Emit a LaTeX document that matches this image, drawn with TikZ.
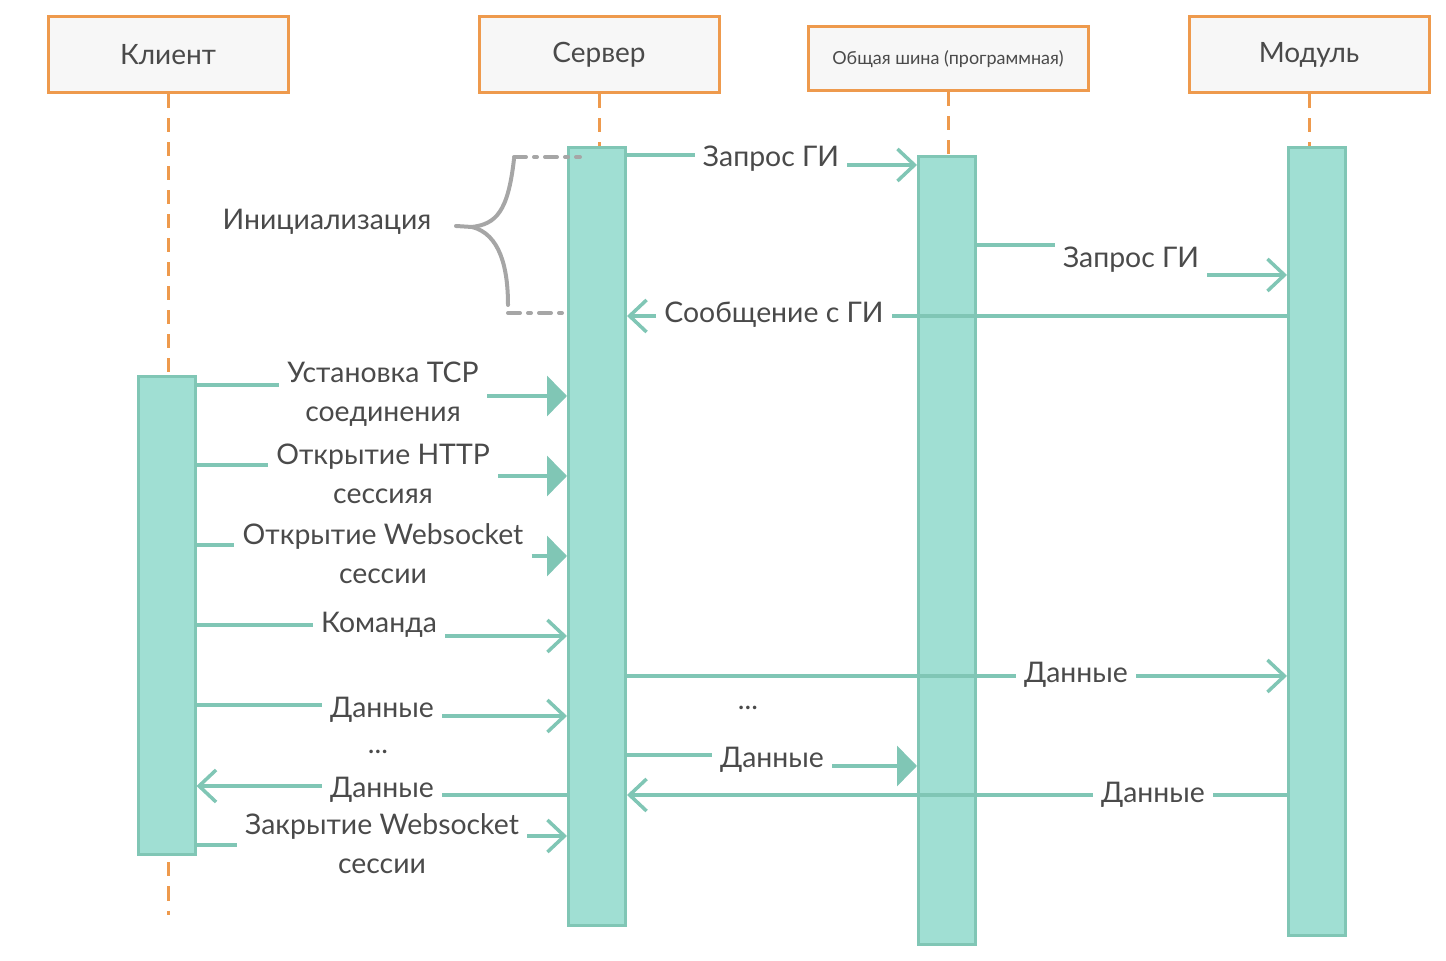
\documentclass[tikz,border=0pt]{standalone}
\usepackage{fontspec}
\setmainfont{Lato}
\usetikzlibrary{arrows.meta}

\definecolor{hdorange}{HTML}{EE9A4D}
\definecolor{barfill}{HTML}{A0DFD3}
\definecolor{barline}{HTML}{80C6B5}
\definecolor{txtgray}{HTML}{4A4A4A}
\definecolor{bracegray}{HTML}{A6A6A6}

\tikzset{
  header/.style={draw=hdorange, line width=1.5pt, fill=black!3, text=txtgray,
    minimum width=120pt, minimum height=38pt, font=\fontsize{14}{17}\selectfont},
  lifeline/.style={draw=hdorange, line width=1.5pt, dash pattern=on 7pt off 5pt},
  actbar/.style={draw=barline, fill=barfill, line width=1.5pt, minimum width=28.5pt, inner sep=0pt},
  msg/.style={draw=barline, line width=1.75pt},
  lbl/.style={text=txtgray, font=\fontsize{14.2}{19.5}\selectfont, align=center, inner xsep=4pt, inner ysep=0pt, yshift=-1pt},
  opentip/.style={-{Straight Barb[length=8.5pt,width=16pt]}},
  filledtip/.style={-{Triangle[length=10pt,width=20pt]}},
  bracepen/.style={draw=bracegray, line width=2pt, line cap=round}
}

\begin{document}
\begin{tikzpicture}[x=0.5pt, y=-0.5pt]
  \useasboundingbox (0,0) rectangle (1446,961);
  % participants
  \node[header] (hdC) at (168,55) {Клиент};
  \node[header] (hdS) at (599,55) {Сервер};
  \node[header, minimum width=140pt, minimum height=32pt, font=\fontsize{9}{11}\selectfont] (hdB) at (948,59) {Общая шина (программная)};
  \node[header] (hdM) at (1309,55) {Модуль};
  % lifelines
  \draw[lifeline] (hdC.south) -- (hdC.south |- 0,915);
  \draw[lifeline] (hdS.south) -- (hdS.south |- 0,150);
  \draw[lifeline] (hdB.south) -- (hdB.south |- 0,159);
  \draw[lifeline] (hdM.south) -- (hdM.south |- 0,150);
  % activation bars
  \foreach \n/\x/\y/\h in {barC/166.5/616/239, barS/597/536.5/388.5, barB/947/550.5/393.5, barM/1317/541.5/393.5}
    {\node[actbar, minimum height=\h pt] (\n) at (\x,\y) {};}

  % initialisation
  \node[lbl] (mReq1) at (771,157) {Запрос ГИ};
  \draw[msg] (barS.east |- 0,155) -- (mReq1.west |- 0,155);
  \draw[msg, opentip] (mReq1.east |- 0,165) -- (barB.west |- 0,165);
  \node[lbl] (mReq2) at (1131,258) {Запрос ГИ};
  \draw[msg] (barB.east |- 0,245) -- (mReq2.west |- 0,245);
  \draw[msg, opentip] (mReq2.east |- 0,275) -- (barM.west |- 0,275);
  \node[lbl] (mMsg) at (774,313) {Сообщение с ГИ};
  \draw[msg] (barM.west |- 0,316) -- (mMsg.east |- 0,316);
  \draw[msg, opentip] (mMsg.west |- 0,316) -- (barS.east |- 0,316);

  % client session
  \node[lbl] (mTcp) at (383,392) {Установка TCP\\соединения};
  \draw[msg] (barC.east |- 0,385) -- (mTcp.west |- 0,385);
  \draw[msg, filledtip] (mTcp.east |- 0,396) -- (barS.west |- 0,396);
  \node[lbl] (mHttp) at (383,472) {Открытие HTTP\\сессияя};
  \draw[msg] (barC.east |- 0,465) -- (mHttp.west |- 0,465);
  \draw[msg, filledtip] (mHttp.east |- 0,476) -- (barS.west |- 0,476);
  \node[lbl] (mWs) at (383,552) {Открытие Websocket\\сессии};
  \draw[msg] (barC.east |- 0,545) -- (mWs.west |- 0,545);
  \draw[msg, filledtip] (mWs.east |- 0,556) -- (barS.west |- 0,556);
  \node[lbl] (mCmd) at (379,623) {Команда};
  \draw[msg] (barC.east |- 0,625) -- (mCmd.west |- 0,625);
  \draw[msg, opentip] (mCmd.east |- 0,636) -- (barS.west |- 0,636);

  % data exchange
  \node[lbl] (mDat1) at (1076,673) {Данные};
  \draw[msg] (barS.east |- 0,676) -- (mDat1.west |- 0,676);
  \draw[msg, opentip] (mDat1.east |- 0,676) -- (barM.west |- 0,676);
  \node[lbl] (mDat2) at (382,708) {Данные};
  \draw[msg] (barC.east |- 0,705) -- (mDat2.west |- 0,705);
  \draw[msg, opentip] (mDat2.east |- 0,716) -- (barS.west |- 0,716);
  \node[lbl] (dotsL) at (378,750) {...};
  \node[lbl] (dotsR) at (748,706) {...};
  \node[lbl] (mDat3) at (772,758) {Данные};
  \draw[msg] (barS.east |- 0,755) -- (mDat3.west |- 0,755);
  \draw[msg, filledtip] (mDat3.east |- 0,766) -- (barB.west |- 0,766);
  \node[lbl] (mDat4) at (382,788) {Данные};
  \draw[msg] (barS.west |- 0,795) -- (mDat4.east |- 0,795);
  \draw[msg, opentip] (mDat4.west |- 0,786) -- (barC.east |- 0,786);
  \node[lbl] (mDat5) at (1153,793) {Данные};
  \draw[msg] (barM.west |- 0,795) -- (mDat5.east |- 0,795);
  \draw[msg, opentip] (mDat5.west |- 0,795) -- (barS.east |- 0,795);
  \node[lbl] (mClose) at (382,842) {Закрытие Websocket\\сессии};
  \draw[msg] (barC.east |- 0,845) -- (mClose.west |- 0,845);
  \draw[msg, opentip] (mClose.east |- 0,836) -- (barS.west |- 0,836);

  % brace for the init phase
  \node[lbl] (init) at (327,220) {Инициализация};
  \draw[bracepen] (514,159) .. controls (508,212) and (496,224) .. (472,227) -- (456,226);
  \draw[bracepen] (472,227) .. controls (500,234) and (508,268) .. (508,305);
  \draw[bracepen, dash pattern=on 6pt off 4pt on 1.5pt off 4pt] (514,157) -- (580,157);
  \draw[bracepen, dash pattern=on 6pt off 4pt on 1.5pt off 4pt] (508,313) -- (568,313);
\end{tikzpicture}
\end{document}
